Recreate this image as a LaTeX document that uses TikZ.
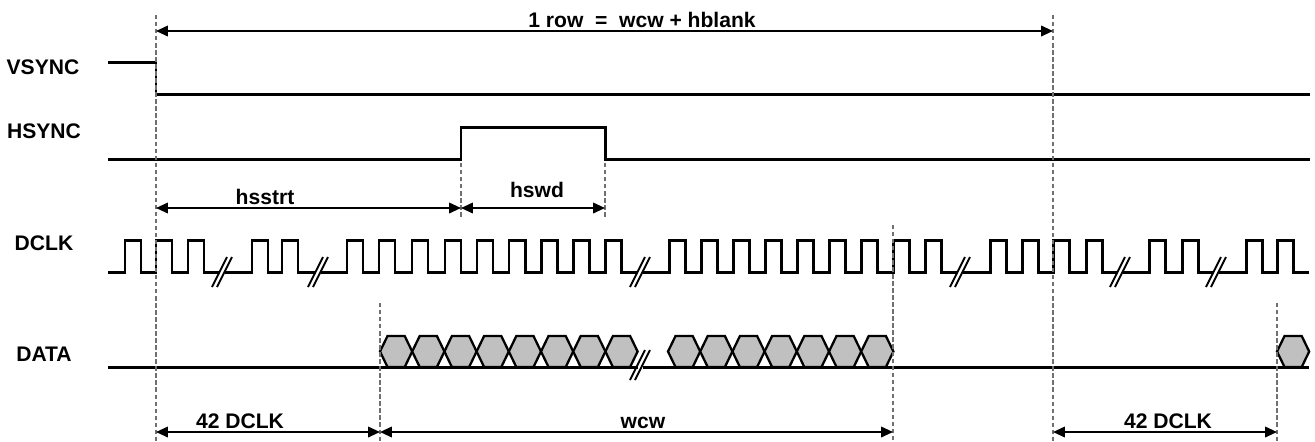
\documentclass[tikz,border=0pt]{standalone}
\usepackage{fontspec}
\setmainfont{Liberation Sans}
\usetikzlibrary{arrows.meta}
\definecolor{hexgray}{HTML}{C0C0C0}
\definecolor{guidegray}{HTML}{707070}

\begin{document}
\begin{tikzpicture}[x=0.02cm,y=-0.02cm,
    sig/.style={line width=1.7pt},
    guide/.style={guidegray,line width=0.8pt,dash pattern=on 2.5pt off 1.5pt},
    dim/.style={{Triangle[length=6.8pt,width=6pt]}-{Triangle[length=6.8pt,width=6pt]},line width=1.1pt},
    brk/.style={line width=1.1pt},
    hexa/.style={draw,fill=hexgray,line width=1.3pt},
    lbl/.style={font=\bfseries\fontsize{12}{14}\selectfont,anchor=base,inner sep=0pt}]
    \useasboundingbox (0,0) rectangle (1315,441);

    \node[lbl] (vsync) at (43,74.5) {VSYNC};
    \node[lbl] (hsync) at (44,138.5) {HSYNC};
    \node[lbl] (dclk) at (44,250.5) {DCLK};
    \node[lbl] (data) at (44,361.5) {DATA};

    \draw[sig] (108,62) -- (156,62) -- (156,94) -- (1310,94);
    \draw[sig] (108,159) -- (461,159) -- (461,127) -- (605,127) -- (605,159) -- (1310,159);

    \draw[sig] (108,272) \foreach \r in {125,156,188}{ -- (\r,272) -- (\r,240) -- ({\r+16},240) -- ({\r+16},272)} -- (219.5,272);
    \draw[sig] (224.5,272) \foreach \r in {252,282}{ -- (\r,272) -- (\r,240) -- ({\r+16},240) -- ({\r+16},272)} -- (315.5,272);
    \draw[sig] (320.5,272) \foreach \r in {347,379,412,445,477,509,541,573,605}{ -- (\r,272) -- (\r,240) -- ({\r+16},240) -- ({\r+16},272)} -- (637.5,272);
    \draw[sig] (642.5,272) \foreach \r in {669,701,733,765,797,829,861,893,925}{ -- (\r,272) -- (\r,240) -- ({\r+16},240) -- ({\r+16},272)} -- (957.5,272);
    \draw[sig] (962.5,272) \foreach \r in {990,1022,1053,1086}{ -- (\r,272) -- (\r,240) -- ({\r+16},240) -- ({\r+16},272)} -- (1117.5,272);
    \draw[sig] (1122.5,272) \foreach \r in {1149,1182}{ -- (\r,272) -- (\r,240) -- ({\r+16},240) -- ({\r+16},272)} -- (1213.5,272);
    \draw[sig] (1218.5,272) \foreach \r in {1246,1277}{ -- (\r,272) -- (\r,240) -- ({\r+16},240) -- ({\r+16},272)} -- (1309,272);

    \draw[sig] (108,367) -- (637.5,367);
    \draw[sig] (642.5,367) -- (1309,367);
    \foreach \c/\y in {222/272,318/272,640/272,960/272,1120/272,1216/272,640/365}
        \foreach \d in {-2.5,2.5}
            \draw[brk] ({\c+\d-7.5},{\y+15}) -- ({\c+\d+7.5},{\y-15});

    \foreach \x in {0,...,7}
        \draw[hexa] ({380+32.2*\x},351.5) -- ++(7.5,-15.5) -- ++(17.2,0) -- ++(7.5,15.5) -- ++(-7.5,15.5) -- ++(-17.2,0) -- cycle;
    \foreach \x in {0,...,6}
        \draw[hexa] ({668+32.2*\x},351.5) -- ++(7.5,-15.5) -- ++(17.2,0) -- ++(7.5,15.5) -- ++(-7.5,15.5) -- ++(-17.2,0) -- cycle;
    \draw[hexa] (1277,351.5) -- ++(7.5,-15.5) -- ++(17.2,0) -- ++(7.5,15.5) -- ++(-7.5,15.5) -- ++(-17.2,0) -- cycle;

    \foreach \x/\ya/\yb in {156/15/441,1053/15/441,461/163/218,605/163/218,380/303/441,893/225/441,1277/303/441}
        \draw[guide] (\x,\ya) -- (\x,\yb);

    \coordinate (rowL) at (156,31);
    \coordinate (rowR) at (1053,31);
    \coordinate (hsL) at (156,208);
    \coordinate (hsM) at (461,208);
    \coordinate (hsR) at (605,208);
    \coordinate (dL) at (156,432);
    \coordinate (dM) at (380,432);
    \coordinate (dR) at (893,432);
    \coordinate (eL) at (1053,432);
    \coordinate (eR) at (1277,432);

    \draw[dim] (rowL) -- (rowR);
    \draw[dim] (hsL) -- (hsM);
    \draw[dim] (hsM) -- (hsR);
    \draw[dim] (dL) -- (dM);
    \draw[dim] (dM) -- (dR);
    \draw[dim] (eL) -- (eR);

    \node[lbl] (row) at (642,27) {1 row\ \ =\ \ wcw + hblank};
    \node[lbl] (hsstrt) at (265,204) {hsstrt};
    \node[lbl] (hswd) at (537,197) {hswd};
    \node[lbl] (clkA) at (240,428) {42 DCLK};
    \node[lbl] (wcw) at (643,428) {wcw};
    \node[lbl] (clkB) at (1168,428) {42 DCLK};
\end{tikzpicture}
\end{document}
